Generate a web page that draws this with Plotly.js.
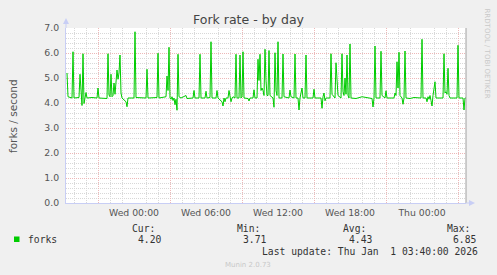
<!DOCTYPE html>
<html>
<head>
<meta charset="utf-8">
<script src="https://cdn.plot.ly/plotly-3.0.1.min.js"></script>
<style>html,body{margin:0;padding:0;background:#F0F0F0;}#chart{width:497px;height:275px;}</style>
</head>
<body>
<div id="chart"></div>
<script>
// ---- data (5-minute samples, baseline points between spikes) ----
const times = [
"2025-12-30 18:25","2025-12-30 18:30","2025-12-30 18:50","2025-12-30 18:55","2025-12-30 19:00",
"2025-12-30 19:25","2025-12-30 19:30","2025-12-30 19:35","2025-12-30 19:40","2025-12-30 19:45",
"2025-12-30 19:50","2025-12-30 19:55","2025-12-30 20:00","2025-12-30 20:05","2025-12-30 20:30",
"2025-12-30 20:55","2025-12-30 21:00","2025-12-30 21:05","2025-12-30 21:45","2025-12-30 21:50",
"2025-12-30 21:55","2025-12-30 22:00","2025-12-30 22:05","2025-12-30 22:10","2025-12-30 22:15",
"2025-12-30 22:20","2025-12-30 22:25","2025-12-30 22:35","2025-12-30 22:40","2025-12-30 22:45",
"2025-12-30 22:50","2025-12-30 22:55","2025-12-30 23:00","2025-12-30 23:20","2025-12-30 23:25",
"2025-12-30 23:30","2025-12-30 23:55",
"2025-12-31 00:00","2025-12-31 00:05","2025-12-31 00:10","2025-12-31 01:00","2025-12-31 01:05",
"2025-12-31 01:10","2025-12-31 01:55","2025-12-31 02:00","2025-12-31 02:05","2025-12-31 02:40",
"2025-12-31 02:45","2025-12-31 02:50","2025-12-31 02:55","2025-12-31 03:00","2025-12-31 03:05",
"2025-12-31 03:10","2025-12-31 03:15","2025-12-31 03:20","2025-12-31 03:25","2025-12-31 03:30",
"2025-12-31 03:35","2025-12-31 03:40","2025-12-31 03:45","2025-12-31 03:55","2025-12-31 04:20",
"2025-12-31 04:25","2025-12-31 04:55","2025-12-31 05:00","2025-12-31 05:05","2025-12-31 05:25",
"2025-12-31 05:30","2025-12-31 05:35","2025-12-31 05:55","2025-12-31 06:00","2025-12-31 06:05",
"2025-12-31 06:20","2025-12-31 06:25","2025-12-31 06:30","2025-12-31 06:50","2025-12-31 06:55",
"2025-12-31 07:00","2025-12-31 07:20","2025-12-31 07:25","2025-12-31 07:30","2025-12-31 07:35",
"2025-12-31 07:40","2025-12-31 07:50","2025-12-31 07:55","2025-12-31 08:00","2025-12-31 08:05",
"2025-12-31 08:10","2025-12-31 08:15","2025-12-31 08:25","2025-12-31 08:30","2025-12-31 08:35",
"2025-12-31 08:45","2025-12-31 08:50","2025-12-31 08:55","2025-12-31 09:00","2025-12-31 09:05",
"2025-12-31 09:10","2025-12-31 09:30","2025-12-31 09:35","2025-12-31 09:40","2025-12-31 09:55",
"2025-12-31 10:00","2025-12-31 10:05","2025-12-31 10:15","2025-12-31 10:20","2025-12-31 10:25",
"2025-12-31 10:30","2025-12-31 10:35","2025-12-31 10:40","2025-12-31 10:45","2025-12-31 10:50",
"2025-12-31 10:55","2025-12-31 11:00","2025-12-31 11:05","2025-12-31 11:10","2025-12-31 11:15",
"2025-12-31 11:20","2025-12-31 11:35","2025-12-31 11:40","2025-12-31 11:45","2025-12-31 11:50",
"2025-12-31 11:55","2025-12-31 12:00","2025-12-31 12:05","2025-12-31 12:20","2025-12-31 12:25",
"2025-12-31 12:30","2025-12-31 12:55","2025-12-31 13:00","2025-12-31 13:05","2025-12-31 13:20",
"2025-12-31 13:25","2025-12-31 13:30","2025-12-31 13:40","2025-12-31 13:45","2025-12-31 13:50",
"2025-12-31 14:00","2025-12-31 14:05","2025-12-31 14:15","2025-12-31 14:20","2025-12-31 14:25",
"2025-12-31 14:55","2025-12-31 15:00","2025-12-31 15:05","2025-12-31 15:35","2025-12-31 15:40",
"2025-12-31 15:45","2025-12-31 15:50","2025-12-31 15:55","2025-12-31 16:00","2025-12-31 16:20",
"2025-12-31 16:25","2025-12-31 16:30","2025-12-31 16:45","2025-12-31 16:50","2025-12-31 16:55",
"2025-12-31 17:00","2025-12-31 17:15","2025-12-31 17:20","2025-12-31 17:25","2025-12-31 17:30",
"2025-12-31 17:35","2025-12-31 17:40","2025-12-31 17:45","2025-12-31 17:50","2025-12-31 17:55",
"2025-12-31 18:00","2025-12-31 18:05","2025-12-31 18:30","2025-12-31 19:00","2025-12-31 19:30",
"2025-12-31 19:50","2025-12-31 19:55","2025-12-31 20:00","2025-12-31 20:05","2025-12-31 20:10",
"2025-12-31 20:30","2025-12-31 20:35","2025-12-31 20:40","2025-12-31 20:55","2025-12-31 21:00",
"2025-12-31 21:05","2025-12-31 21:40","2025-12-31 21:45","2025-12-31 21:50","2025-12-31 21:55",
"2025-12-31 22:00","2025-12-31 22:05","2025-12-31 22:10","2025-12-31 22:20","2025-12-31 22:25",
"2025-12-31 22:30","2025-12-31 22:35","2025-12-31 22:40","2025-12-31 23:00","2025-12-31 23:20",
"2025-12-31 23:55",
"2026-01-01 00:00","2026-01-01 00:05","2026-01-01 00:20","2026-01-01 00:25","2026-01-01 00:30",
"2026-01-01 00:35","2026-01-01 00:40","2026-01-01 00:45","2026-01-01 00:50","2026-01-01 00:55",
"2026-01-01 01:00","2026-01-01 01:05","2026-01-01 01:10","2026-01-01 01:45","2026-01-01 01:50",
"2026-01-01 01:55","2026-01-01 02:00","2026-01-01 02:05","2026-01-01 02:10","2026-01-01 02:15",
"2026-01-01 02:20","2026-01-01 02:55","2026-01-01 03:00","2026-01-01 03:05","2026-01-01 03:25",
"2026-01-01 03:30","2026-01-01 03:35","2026-01-01 03:40"
];
const forks = [
5.20,4.25,4.20,6.05,4.20,
4.22,5.15,4.60,3.90,5.97,
3.98,4.20,4.42,4.20,4.22,
4.20,4.60,4.20,4.18,5.97,
4.32,4.25,5.15,4.25,4.30,
4.80,4.35,5.32,4.95,5.20,
5.92,4.40,4.20,4.05,3.85,
4.20,4.20,
4.20,6.85,4.22,4.20,5.35,
4.20,4.22,5.99,4.20,4.25,
5.08,4.50,6.23,4.20,4.15,
4.25,4.10,4.20,3.93,4.15,
3.71,5.95,4.25,4.20,4.30,
4.18,4.20,4.50,4.20,4.20,
5.95,4.20,4.20,4.47,4.20,
4.22,6.45,4.20,4.20,4.50,
4.20,4.05,3.88,4.20,4.05,
4.20,4.20,4.50,4.30,4.05,
4.20,4.25,4.20,5.95,4.20,
4.20,5.92,4.20,4.25,6.05,
4.20,4.18,4.08,4.20,4.20,
4.53,4.20,4.20,5.75,4.90,
5.95,4.50,4.60,4.50,4.30,
6.15,4.90,4.30,4.30,6.10,
4.30,4.20,3.83,6.01,4.50,
4.30,6.45,4.20,4.20,5.96,
4.25,4.20,4.52,4.25,4.20,
5.96,4.20,4.20,3.72,4.20,
4.60,4.20,4.20,5.92,4.20,
4.20,4.55,4.20,4.20,3.79,
4.25,4.40,4.09,4.20,4.20,
5.97,4.35,4.20,5.61,4.67,
4.30,4.20,5.97,4.45,4.30,
5.00,4.35,5.92,4.30,4.20,
6.36,4.20,4.18,4.25,4.22,
4.18,3.84,4.20,6.28,4.20,
4.20,6.07,4.30,4.20,4.49,
4.20,4.20,4.40,4.30,5.65,
4.60,6.03,4.30,4.20,3.95,
4.20,6.08,4.20,4.18,4.22,
4.20,
6.55,4.20,4.20,4.05,4.25,
4.15,4.30,4.10,3.88,4.30,
4.55,4.85,4.20,4.20,5.97,
4.40,4.45,4.35,5.39,4.30,
4.20,4.20,6.31,4.20,4.20,
3.72,4.20,4.20
];
const seriesName = "forks";
const statLabels = ["Cur:", "Min:", "Avg:", "Max:"];
const statValues = ["4.20", "3.71", "4.43", "6.85"];
const lastUpdate = "Last update: Thu Jan \u00a01 03:40:00 2026";
const xRange = ["2025-12-30 18:20", "2026-01-01 03:40"];
const yRange = [0, 7];

// ---- layout helpers (pixel -> paper) ----
const L = 66, R = 31, T = 28, B = 72, W = 497, H = 275;
const PW = W - L - R, PH = H - T - B;
const fx = p => (p - L) / PW;
const fy = p => (H - B - p) / PH;

const axisBlue = "#C8CEF5";
const majorGrid = "#EDB8B8";
const minorGrid = "#D8D8D8";
const sans = "DejaVu Sans";
const mono = "DejaVu Sans Mono";
const HOUR = 3600000;

const trace = {
  x: times, y: forks, type: "scatter", mode: "lines", name: seriesName,
  line: {color: "#00CC00", width: 1}, hoverinfo: "skip"
};
// empty helper trace so the overlaid x2 axis (major time grid) is drawn
const gridTrace = {
  x: xRange, y: [null, null], xaxis: "x2", yaxis: "y", type: "scatter", mode: "lines",
  showlegend: false, hoverinfo: "skip", line: {width: 0}
};

const annotations = [];
function txt(text, x, y, opts) {
  annotations.push(Object.assign({
    text: text, x: fx(x), y: fy(y), xref: "paper", yref: "paper",
    xanchor: "left", yanchor: "middle", showarrow: false, borderpad: 0,
    font: {family: mono, size: 9.7, color: "#333"}
  }, opts || {}));
}
const statX = [131, 236, 341.5, 446];
statLabels.forEach((s, i) => txt(s, statX[i], 228));
statValues.forEach((s, i) => txt(s, statX[i] + 6, 239.5));
txt(seriesName, 26.5, 239.5);
txt(lastUpdate, 261, 251.5);
txt("Munin 2.0.73", 248, 264.5, {xanchor: "center", font: {family: sans, size: 7, color: "#C8C8C8"}});
txt("RRDTOOL / TOBI OETIKER", 486.5, 53, {xanchor: "center", textangle: 90, font: {family: sans, size: 7, color: "#C8C8C8"}});
txt("forks / second", 13, 116, {xanchor: "center", textangle: -90, font: {family: sans, size: 10.5, color: "#555"}});

const shapes = [
  // right frame
  {type: "line", xref: "paper", yref: "paper", x0: 1, x1: 1, y0: 0, y1: 1, line: {color: "#A0A0A0", width: 1}, layer: "above"},
  // y axis extension + arrow
  {type: "line", xref: "paper", yref: "paper", x0: 0, x1: 0, y0: 1, y1: fy(23), line: {color: axisBlue, width: 1}},
  {type: "path", xref: "paper", yref: "paper", path: `M ${fx(63)},${fy(24)} L ${fx(69)},${fy(24)} L ${fx(66)},${fy(18)} Z`, fillcolor: axisBlue, line: {width: 0}},
  // x axis extension + arrow
  {type: "line", xref: "paper", yref: "paper", x0: 1, x1: fx(470), y0: 0, y1: 0, line: {color: axisBlue, width: 1}},
  {type: "path", xref: "paper", yref: "paper", path: `M ${fx(469)},${fy(200)} L ${fx(469)},${fy(206)} L ${fx(475)},${fy(203)} Z`, fillcolor: axisBlue, line: {width: 0}},
  // legend swatch
  {type: "rect", xref: "paper", yref: "paper", x0: fx(14), x1: fx(19.5), y0: fy(242), y1: fy(236.5), fillcolor: "#00CC00", line: {width: 0}}
];

const layout = {
  width: W, height: H,
  margin: {l: L, r: R, t: T, b: B, pad: 0},
  paper_bgcolor: "#F0F0F0", plot_bgcolor: "#FFFFFF",
  showlegend: false,
  title: {text: "Fork rate - by day", font: {family: sans, size: 12.5, color: "#444"},
          x: 0.5, xanchor: "center", xref: "container", y: 1 - 20 / H, yanchor: "middle", yref: "container"},
  xaxis: {
    type: "date", range: xRange, fixedrange: true,
    tick0: "2025-12-31 00:00", dtick: 6 * HOUR, tickformat: "%a %H:%M",
    tickfont: {family: sans, size: 9.3, color: "#555"}, ticks: "", ticklabelstandoff: 1,
    showgrid: false, zeroline: false,
    showline: true, linecolor: axisBlue, linewidth: 1,
    minor: {tick0: "2025-12-31 00:00", dtick: HOUR, showgrid: true, gridcolor: minorGrid, griddash: "1px,1px", gridwidth: 1, ticks: ""}
  },
  xaxis2: {
    type: "date", range: xRange, overlaying: "x", anchor: "y", side: "bottom", fixedrange: true,
    tick0: "2025-12-30 21:00", dtick: 6 * HOUR, showticklabels: false, ticks: "",
    showgrid: true, gridcolor: majorGrid, griddash: "1px,1px", gridwidth: 1, zeroline: false, showline: false
  },
  yaxis: {
    range: yRange, fixedrange: true, dtick: 1, tick0: 0, tickformat: ".1f",
    tickfont: {family: sans, size: 9.3, color: "#555"}, ticks: "", ticklabelstandoff: 4,
    showgrid: true, gridcolor: majorGrid, griddash: "1px,1px", gridwidth: 1,
    zeroline: false, showline: true, linecolor: axisBlue, linewidth: 1,
    minor: {dtick: 0.2, showgrid: true, gridcolor: minorGrid, griddash: "1px,1px", gridwidth: 1, ticks: ""}
  },
  annotations: annotations,
  shapes: shapes
};

Plotly.newPlot("chart", [gridTrace, trace], layout, {staticPlot: true, displayModeBar: false});
</script>
</body>
</html>
